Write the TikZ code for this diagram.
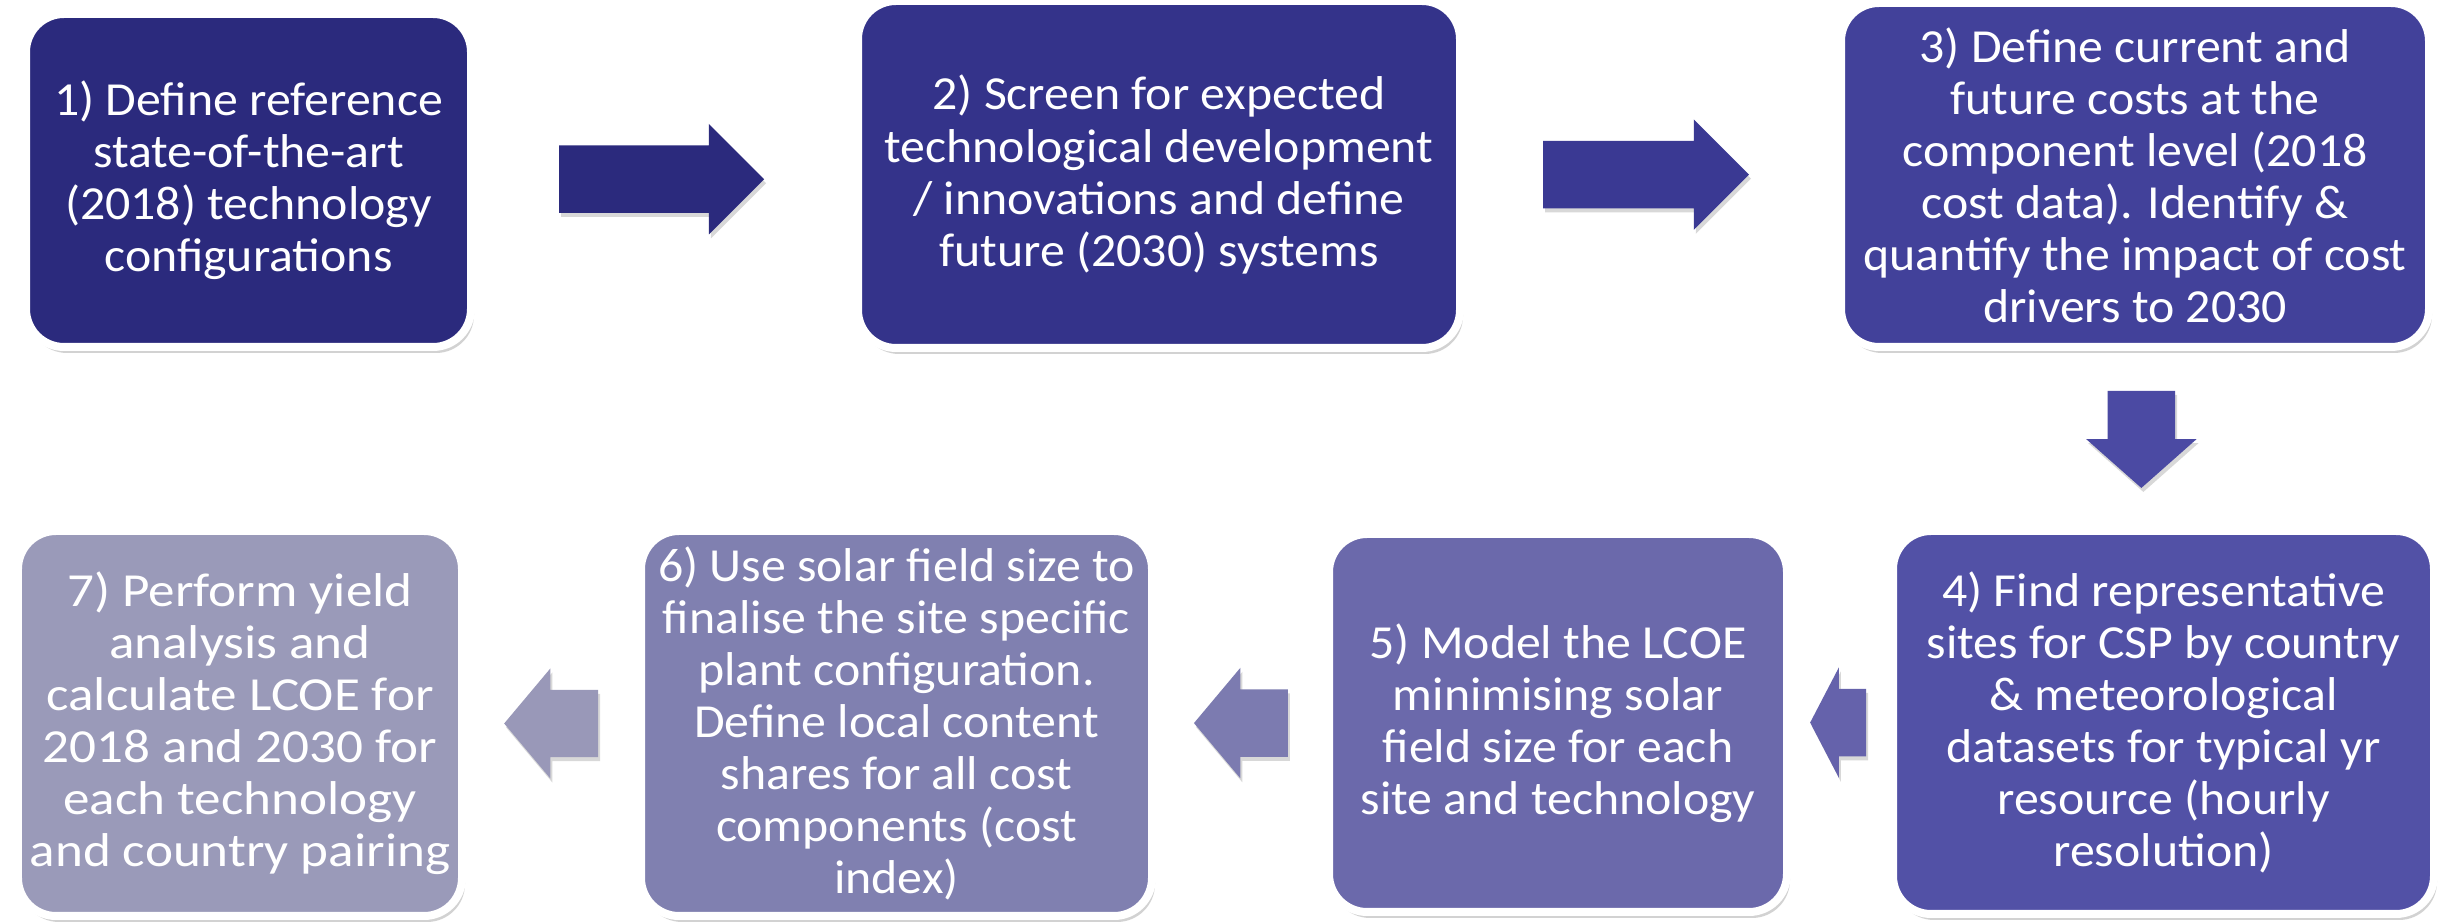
\documentclass[tikz,border=0pt]{standalone}
\usepackage{fontspec}
\setmainfont{Carlito}
\newfontfamily\stagefont[FakeStretch=1.05]{Carlito}
\newfontfamily\widestagefont[FakeStretch=1.12]{Carlito}
\usetikzlibrary{calc}
\usetikzlibrary{shapes.arrows}
\usetikzlibrary{shadows}

% stage fills, dark to light
\definecolor{stageA}{HTML}{2B2A7D}
\definecolor{stageB}{HTML}{34338A}
\definecolor{stageC}{HTML}{42419A}
\definecolor{stageD}{HTML}{5251A6}
\definecolor{stageE}{HTML}{6B69AB}
\definecolor{stageF}{HTML}{8080B0}
\definecolor{stageG}{HTML}{9A9AB9}
% arrow fills
\definecolor{flowA}{HTML}{2B2A7D}
\definecolor{flowB}{HTML}{3A3993}
\definecolor{flowC}{HTML}{4B4AA3}
\definecolor{flowD}{HTML}{6562AB}
\definecolor{flowE}{HTML}{7C7BB0}
\definecolor{flowF}{HTML}{9998B8}

\tikzset{
  stage/.style={rounded corners=0.38cm, draw=white, line width=0.08cm,
    text=white, align=center, inner sep=0pt,
    font=\stagefont\fontsize{13.5}{14.8}\selectfont,
    drop shadow={shadow xshift=0.03cm, shadow yshift=-0.06cm, opacity=0.35}},
  flowarrow/.style={single arrow, anchor=tail, inner xsep=0pt, inner ysep=0.33cm,
    minimum width=1.09cm, single arrow head extend=0.215cm,
    single arrow tip angle=90,
    drop shadow={shadow xshift=0.02cm, shadow yshift=-0.04cm, opacity=0.3}},
  flowdown/.style={flowarrow, inner xsep=0.33cm, inner ysep=0pt,
    shape border rotate=270}
}

\begin{document}
\begin{tikzpicture}
\fill[white] (0,0) rectangle (24.5,-9.22);
\useasboundingbox (0,0) rectangle (24.5,-9.22);

% top row
\node[stage, fill=stageA, minimum width=4.45cm, minimum height=3.33cm] (b1) at (2.485,-1.805)
  {1) Define reference\\state-of-the-art\\(2018) technology\\configurations};
\node[stage, fill=stageB, minimum width=6.02cm, minimum height=3.47cm] (b2) at (11.59,-1.745)
  {2) Screen for expected\\technological development\\/ innovations and define\\future (2030) systems};
\node[stage, fill=stageC, minimum width=5.88cm, minimum height=3.44cm] (b3) at (21.35,-1.75)
  {3) Define current and\\future costs at the\\component level (2018\\cost data). Identify \&\\quantify the impact of cost\\drivers to 2030};

% bottom row, right to left
\node[stage, fill=stageD, minimum width=5.41cm, minimum height=3.83cm] (b4) at (21.635,-7.225)
  {4) Find representative\\sites for CSP by country\\\& meteorological\\datasets for typical yr\\resource (hourly\\resolution)};
\node[stage, fill=stageE, minimum width=4.58cm, minimum height=3.78cm] (b5) at (15.58,-7.23)
  {5) Model the LCOE\\minimising solar\\field size for each\\site and technology};
\node[stage, fill=stageF, minimum width=5.11cm, minimum height=3.85cm] (b6) at (8.965,-7.235)
  {6) Use solar field size to\\finalise the site specific\\plant configuration.\\Define local content\\shares for all cost\\components (cost\\index)};
\node[stage, fill=stageG, minimum width=4.44cm, minimum height=3.85cm,
  font=\widestagefont\fontsize{13.5}{14.8}\selectfont] (b7) at (2.40,-7.235)
  {7) Perform yield\\analysis and\\calculate LCOE for\\2018 and 2030 for\\each technology\\and country pairing};

% block arrows between the stages (tail placed a fifth of the way across the gap)
\node[flowarrow, fill=flowA, minimum height=2.05cm] (a12) at ($(b1.east)!0.22!(b2.west)$) {};
\node[flowarrow, fill=flowB, minimum height=2.06cm] (a23) at ($(b2.east)!0.21!(b3.west)$) {};
\node[flowdown, fill=flowC, minimum height=0.97cm, single arrow tip angle=97] (a34) at ($(b3.south)!0.223!(b4.north)$) {};
\node[flowarrow, fill=flowD, minimum height=0.56cm, single arrow tip angle=125, shape border rotate=180] (a45) at ($(b4.west)!0.226!(b5.east)$) {};
\node[flowarrow, fill=flowE, minimum height=0.94cm, single arrow tip angle=100, shape border rotate=180] (a56) at ($(b5.west)!0.215!(b6.east)$) {};
\node[flowarrow, fill=flowF, minimum height=0.94cm, single arrow tip angle=100, shape border rotate=180] (a67) at ($(b6.west)!0.223!(b7.east)$) {};

\end{tikzpicture}
\end{document}
